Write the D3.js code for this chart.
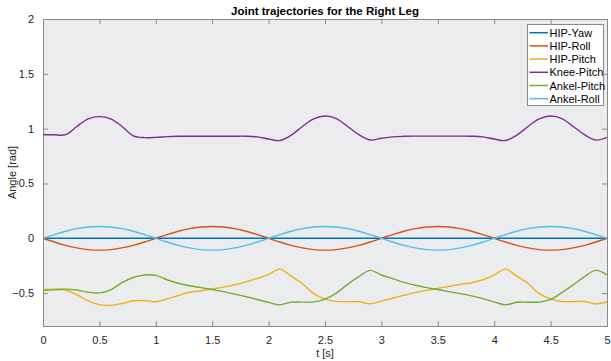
<!DOCTYPE html>
<html>
<head>
<meta charset="utf-8">
<script src="https://cdn.jsdelivr.net/npm/d3@7"></script>
<style>
  body { margin: 0; background: #fff; }
  text { font-family: "Liberation Sans", Arial, sans-serif; }
</style>
</head>
<body>
<div id="chart"></div>
<script>
// time samples [s]
const tValues = [0.0,0.1,0.2,0.3,0.4,0.5,0.6,0.7,0.8,0.9,1.0,1.1,1.2,1.3,1.4,1.5,1.6,1.7,1.8,1.9,
  2.0,2.1,2.2,2.3,2.4,2.5,2.6,2.7,2.8,2.9,3.0,3.1,3.2,3.3,3.4,3.5,3.6,3.7,3.8,3.9,
  4.0,4.1,4.2,4.3,4.4,4.5,4.6,4.7,4.8,4.9,5.0];

const hipYaw = [0,0,0,0,0,0,0,0,0,0,0,0,0,0,0,0,0,0,0,0,0,0,0,0,0,0,0,0,0,0,0,0,0,0,0,0,0,0,0,0,0,0,0,0,0,0,0,0,0,0,0];

const hipRoll = [0,-0.034,-0.064,-0.088,-0.103,-0.108,-0.103,-0.088,-0.064,-0.034,
  0,0.034,0.064,0.088,0.103,0.108,0.103,0.088,0.064,0.034,
  0,-0.034,-0.064,-0.088,-0.103,-0.108,-0.103,-0.088,-0.064,-0.034,
  0,0.034,0.064,0.088,0.103,0.108,0.103,0.088,0.064,0.034,
  0,-0.034,-0.064,-0.088,-0.103,-0.108,-0.103,-0.088,-0.064,-0.034,0];

const hipPitch = [-0.464,-0.464,-0.472,-0.515,-0.570,-0.605,-0.612,-0.595,-0.570,-0.568,
  -0.579,-0.553,-0.522,-0.492,-0.478,-0.462,-0.445,-0.424,-0.398,-0.366,
  -0.330,-0.281,-0.345,-0.415,-0.505,-0.555,-0.575,-0.578,-0.578,-0.598,
  -0.573,-0.547,-0.520,-0.495,-0.475,-0.457,-0.438,-0.420,-0.405,-0.378,
  -0.335,-0.281,-0.345,-0.412,-0.505,-0.552,-0.576,-0.577,-0.577,-0.598,-0.579];

const kneePitch = [0.947,0.944,0.945,1.020,1.090,1.110,1.090,1.020,0.935,0.918,
  0.920,0.927,0.930,0.931,0.931,0.931,0.931,0.931,0.931,0.925,
  0.905,0.892,0.940,1.020,1.090,1.115,1.092,1.020,0.945,0.896,
  0.912,0.925,0.930,0.932,0.932,0.932,0.932,0.932,0.931,0.925,
  0.905,0.892,0.940,1.020,1.090,1.115,1.092,1.020,0.945,0.896,0.920];

const ankelPitch = [-0.476,-0.470,-0.464,-0.472,-0.492,-0.498,-0.470,-0.405,-0.358,-0.335,
  -0.338,-0.378,-0.410,-0.433,-0.450,-0.467,-0.487,-0.509,-0.533,-0.558,
  -0.585,-0.607,-0.582,-0.582,-0.580,-0.555,-0.500,-0.420,-0.350,-0.293,
  -0.335,-0.368,-0.402,-0.428,-0.450,-0.467,-0.486,-0.505,-0.525,-0.550,
  -0.580,-0.607,-0.583,-0.583,-0.582,-0.558,-0.495,-0.425,-0.350,-0.293,-0.333];

const ankelRoll = [0,0.034,0.064,0.088,0.103,0.108,0.103,0.088,0.064,0.034,
  0,-0.034,-0.064,-0.088,-0.103,-0.108,-0.103,-0.088,-0.064,-0.034,
  0,0.034,0.064,0.088,0.103,0.108,0.103,0.088,0.064,0.034,
  0,-0.034,-0.064,-0.088,-0.103,-0.108,-0.103,-0.088,-0.064,-0.034,
  0,0.034,0.064,0.088,0.103,0.108,0.103,0.088,0.064,0.034,0];

const seriesNames = ["HIP-Yaw","HIP-Roll","HIP-Pitch","Knee-Pitch","Ankel-Pitch","Ankel-Roll"];
const seriesValues = [hipYaw, hipRoll, hipPitch, kneePitch, ankelPitch, ankelRoll];
const seriesColors = ["#0072BD","#D95319","#EDB120","#7E2F8E","#77AC30","#4DBEEE"];

const xTicks = [0,0.5,1,1.5,2,2.5,3,3.5,4,4.5,5];
const yTicks = [-0.5,0,0.5,1,1.5,2];

const W = 611, H = 361;
const margin = {top: 19, right: 4, bottom: 35, left: 43};
const width = W - margin.left - margin.right;
const height = H - margin.top - margin.bottom;

const svg = d3.select("#chart").append("svg")
    .attr("width", W).attr("height", H);

const g = svg.append("g")
    .attr("transform", "translate(" + margin.left + "," + margin.top + ")");

const x = d3.scaleLinear().domain([0, 5]).range([0, width]);
const y = d3.scaleLinear().domain([-0.8, 2]).range([height, 0]);

// axes background
g.append("rect")
    .attr("width", width).attr("height", height)
    .attr("fill", "#ebecee");

// ticks (inside, on all four sides like matlab box on)
const tickLen = 5;
const axCol = "#262626";

const xb = g.append("g").attr("transform", "translate(0," + height + ")")
    .call(d3.axisBottom(x).tickValues(xTicks).tickSize(-tickLen).tickPadding(10).tickFormat(d3.format("~g")));
const xt = g.append("g")
    .call(d3.axisTop(x).tickValues(xTicks).tickSize(-tickLen).tickFormat(""));
const yl = g.append("g")
    .call(d3.axisLeft(y).tickValues(yTicks).tickSize(-tickLen).tickPadding(9).tickFormat(d3.format("~g")));
const yr = g.append("g").attr("transform", "translate(" + width + ",0)")
    .call(d3.axisRight(y).tickValues(yTicks).tickSize(-tickLen).tickFormat(""));

[xb, xt, yl, yr].forEach(function(a){
    a.select(".domain").attr("stroke", "#8a8a8a").attr("stroke-width", 1);
    a.selectAll(".tick line").attr("stroke", "#8a8a8a");
    a.selectAll(".tick text")
        .attr("fill", axCol)
        .style("font-size", "11px");
});

// lines
const line = d3.line()
    .x(function(d, i){ return x(tValues[i]); })
    .y(function(d){ return y(d); })
    .curve(d3.curveCatmullRom.alpha(0.5));

const plot = g.append("g");
seriesValues.forEach(function(vals, k){
    plot.append("path")
        .datum(vals)
        .attr("fill", "none")
        .attr("stroke", seriesColors[k])
        .attr("stroke-width", 1.4)
        .attr("d", line);
});

// title and labels
svg.append("text")
    .attr("x", margin.left + width / 2).attr("y", 15)
    .attr("text-anchor", "middle")
    .style("font-size", "11.5px").style("font-weight", "bold")
    .attr("fill", "#000")
    .text("Joint trajectories for the Right Leg");

svg.append("text")
    .attr("x", margin.left + width / 2).attr("y", 357)
    .attr("text-anchor", "middle")
    .style("font-size", "11px")
    .attr("fill", axCol)
    .text("t [s]");

svg.append("text")
    .attr("transform", "translate(16," + (margin.top + height / 2) + ") rotate(-90)")
    .attr("text-anchor", "middle")
    .style("font-size", "11px")
    .attr("fill", axCol)
    .text("Angle [rad]");

// legend
const legX = 527, legY = 24, legW = 76, rowH = 13.2;
const leg = svg.append("g");
leg.append("rect")
    .attr("x", legX + 0.5).attr("y", legY + 0.5)
    .attr("width", legW).attr("height", 81)
    .attr("fill", "#fff").attr("stroke", "#8a8a8a");

seriesNames.forEach(function(name, k){
    const cy = legY + 8.7 + k * rowH;
    leg.append("line")
        .attr("x1", legX + 2.5).attr("x2", legX + 21)
        .attr("y1", cy).attr("y2", cy)
        .attr("stroke", seriesColors[k]).attr("stroke-width", 1.5);
    leg.append("text")
        .attr("x", legX + 22.5).attr("y", cy + 4)
        .style("font-size", "11px")
        .attr("fill", "#000")
        .text(name);
});
</script>
</body>
</html>
